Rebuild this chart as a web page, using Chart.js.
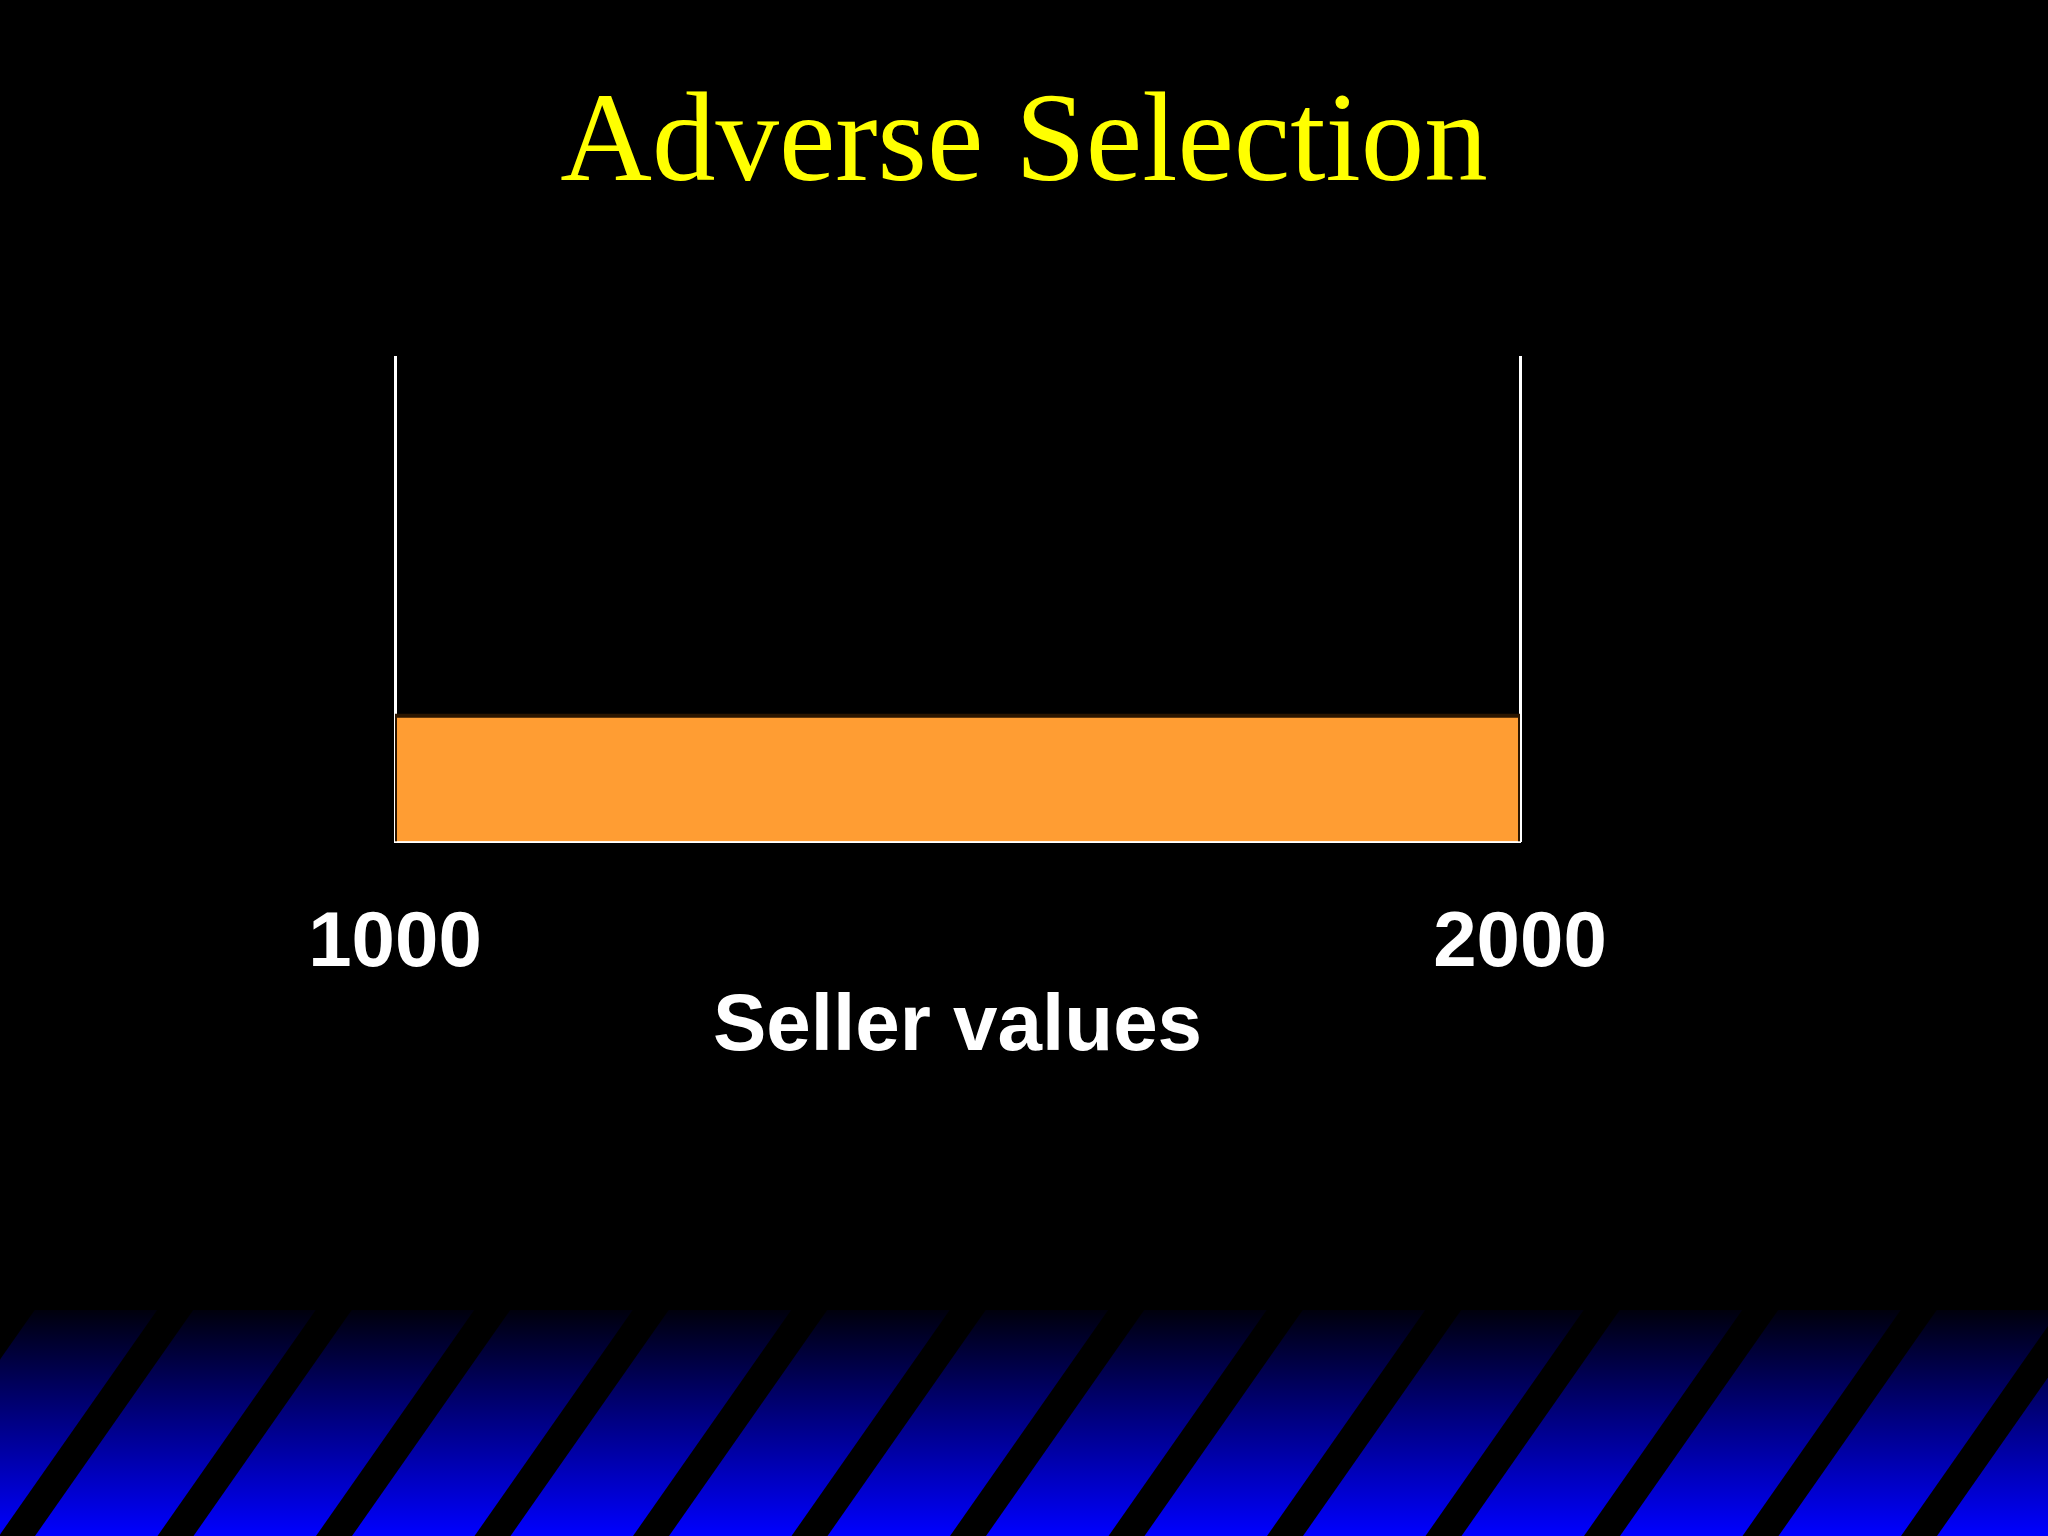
<!DOCTYPE html>
<html>
<head>
<meta charset="utf-8">
<title>Adverse Selection</title>
<script src="https://cdn.jsdelivr.net/npm/chart.js@4.4.1/dist/chart.umd.min.js"></script>
<style>
html,body{margin:0;padding:0;background:#000;}
#wrap{width:2048px;height:1536px;}
</style>
</head>
<body>
<div id="wrap"><canvas id="chart" width="2048" height="1536"></canvas></div>
<script>
const chartTitle = 'Adverse Selection';
const axisTitle = 'Seller values';
// uniform distribution of seller values, drawn as a step outline
const sellerValues = [1000, 1000, 2000, 2000];
const density = [0, 1, 1, 0];
const tickValues = [1000, 2000];
const densityMax = 3.85;

const sans = "'Liberation Sans', Arial, sans-serif";
const serif = "'Liberation Serif', 'Times New Roman', serif";

// slide background: black, with the blue striped band at the bottom
const slideBackground = {
  id: 'slideBackground',
  beforeDraw(chart) {
    const ctx = chart.ctx;
    const w = chart.width, h = chart.height;
    ctx.save();
    ctx.fillStyle = '#000';
    ctx.fillRect(0, 0, w, h);
    const top = 1310;
    const grad = ctx.createLinearGradient(0, top, 0, h);
    grad.addColorStop(0, '#00000c');
    grad.addColorStop(1, '#0000ff');
    ctx.fillStyle = grad;
    ctx.fillRect(0, top, w, h - top);
    ctx.fillStyle = '#000';
    const shift = (h - top) * 0.70;
    for (let x = -1 - 158.5 * 2; x < w + 200; x += 158.5) {
      ctx.beginPath();
      ctx.moveTo(x, h);
      ctx.lineTo(x + 36, h);
      ctx.lineTo(x + 36 + shift, top);
      ctx.lineTo(x + shift, top);
      ctx.closePath();
      ctx.fill();
    }
    ctx.restore();
  }
};

const frameAxis = {
  min: 0,
  max: densityMax,
  z: 1,
  ticks: {display: false},
  grid: {display: false, drawTicks: false},
  border: {display: true, color: '#ffffff', width: 3}
};

new Chart(document.getElementById('chart'), {
  type: 'line',
  data: {
    datasets: [{
      data: sellerValues.map((v, i) => ({x: v, y: density[i]})),
      fill: 'origin',
      backgroundColor: '#ff9d33',
      borderColor: '#2a1500',
      borderWidth: 4,
      pointRadius: 0,
      tension: 0
    }]
  },
  options: {
    responsive: false,
    animation: false,
    events: [],
    layout: {padding: {left: 0, right: 0, top: 0, bottom: 460}},
    plugins: {
      legend: {display: false},
      tooltip: {enabled: false},
      title: {
        display: true,
        text: chartTitle,
        color: '#ffff00',
        font: {family: serif, size: 127, weight: 'normal'},
        padding: {top: 70, bottom: 135}
      }
    },
    scales: {
      x: {
        type: 'linear',
        min: 1000,
        max: 2000,
        z: 1,
        afterBuildTicks: axis => { axis.ticks = tickValues.map(v => ({value: v})); },
        ticks: {
          color: '#ffffff',
          font: {family: sans, size: 78, weight: 'bold'},
          padding: 56,
          maxRotation: 0,
          callback: v => String(v)
        },
        grid: {display: false, drawTicks: false},
        border: {display: true, color: '#ffffff', width: 3},
        title: {
          display: true,
          text: axisTitle,
          color: '#ffffff',
          font: {family: sans, size: 80, weight: 'bold'},
          padding: {top: -67, bottom: 0}
        }
      },
      y: Object.assign({position: 'left', afterFit: axis => { axis.width = 395; }}, frameAxis),
      y2: Object.assign({position: 'right', axis: 'y', afterFit: axis => { axis.width = 528; }}, frameAxis)
    }
  },
  plugins: [slideBackground]
});
</script>
</body>
</html>
